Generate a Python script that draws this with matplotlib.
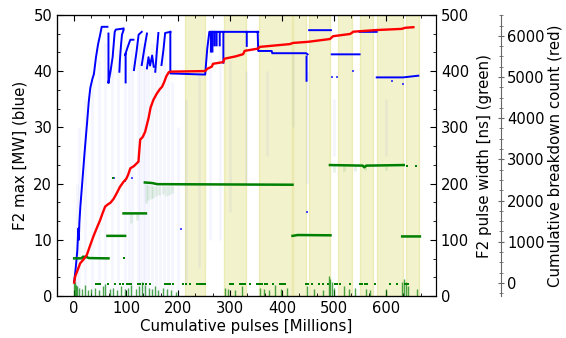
import numpy as np
import matplotlib
matplotlib.use('Agg')
import matplotlib.pyplot as plt
from matplotlib.ticker import AutoMinorLocator

nan = np.nan

# shaded periods (Millions of pulses)
span_start = [213.5, 289, 356, 420.5, 452.5, 508, 550, 583, 638.5]
span_end = [252, 330, 418.7, 446, 492, 534, 575.6, 633, 664]

# F2 max [MW] (blue), NaN breaks between pieces
blue_x = [0, 3, 6, 8, 9, 10, 12, 15, 20, 25, 28, 31, 35, 38, 42, 46, 50, 53, 64, nan,
          66, 66, nan,
          66, 70, 74, 78, 80, 95, nan,
          87, 88, 90, 92, 95, nan,
          99, 99, nan,
          98, 103, 108, 114, nan,
          115, 120, 124, 130, nan,
          130, 135, 140, nan,
          140, 143, 146, 150, 153, nan,
          156, 159, 162, nan,
          168, 172, 175, 185, nan,
          185, 185, 252, 256, 260, 354, nan,
          263, 263, nan, 266, 266, nan, 270, 270, nan, 274, 274, nan, 280, 280, nan,
          287, 287, nan, 332, 332, nan,
          353, 354, 380, 381, 446, 449, nan,
          447, 447, nan,
          452, 494, nan,
          495.5, 549, nan,
          549, 582, nan,
          582, 633, 662]
blue_y = [2.5, 5, 8, 12, 10, 13, 16, 19.5, 25.5, 31, 34.5, 37, 38.6, 39.5, 42.5, 44.8, 46.5, 47.9, 47.9, nan,
          46.7, 38, nan,
          38, 40, 42.5, 47, 47.4, 47.6, nan,
          39.9, 42, 44.5, 46.5, 47.3, nan,
          38, 43, nan,
          42.9, 44.3, 45.6, 45.6, nan,
          40.2, 43.5, 46.5, 47.0, nan,
          41.1, 44, 46.7, nan,
          40.5, 42.5, 41, 42.8, 40.8, nan,
          39.9, 43.5, 46.8, nan,
          41.1, 44, 46.8, 47.0, nan,
          47.0, 39.6, 39.4, 44, 47.0, 47.0, nan,
          47, 43.5, nan, 47, 43.5, nan, 47, 44.6, nan, 47, 44.6, nan, 47, 44.6, nan,
          47, 41.5, nan, 47, 44.5, nan,
          47.0, 43.6, 43.6, 43.2, 43.2, 43.0, nan,
          42.6, 38.3, nan,
          47.3, 47.3, nan,
          43.0, 43.0, nan,
          47.0, 47.0, nan,
          38.9, 38.9, 39.2]

# stray blue points
blue_dot_x = [496, 505, 537, 612, 633, 76, 97, 112, 205, 447]
blue_dot_y = [39.0, 39.0, 40.0, 38.2, 37.7, 21, 20.5, 21, 12, 15]

# faint blue streaks: x, bottom, top [MW]
haze_x = [5, 10, 20, 35, 48, 60, 72, 85, 97, 105, 112, 122, 127, 133, 137, 142, 150, 158, 166, 173, 180, 188, 200, 215, 240, 262, 280, 300, 330, 370, 420, 447, 500, 600]
haze_lo = [0, 0, 0, 0, 0, 0, 0, 0, 0, 0, 0, 0, 0, 0, 0, 0, 0, 0, 0, 0, 0, 0, 0, 2, 5, 10, 10, 15, 20, 25, 30, 20, 25, 25]
haze_hi = [20, 30, 35, 40, 42, 45, 40, 44, 45, 40, 44, 45, 45, 45, 45, 42, 45, 45, 42, 44, 40, 38, 30, 35, 40, 45, 45, 42, 40, 40, 43, 40, 35, 35]

# F2 pulse width [ns] (green)
green_x = [0, 14, 17, 25, 28, 62, 66, nan,
           64, 98, nan,
           95, 138, nan,
           136, 150, 160, 420, nan,
           420, 430, 493, nan,
           492, 555, 558, 562, 634, nan,
           631, 665]
green_y = [67, 67, 70, 69, 67.5, 67, 67, nan,
           107, 107, nan,
           147, 147, nan,
           202, 201, 199, 198, nan,
           107, 108.5, 108, nan,
           233, 232, 229, 232, 233, nan,
           106, 106]

# isolated green points near 20 ns
gdot_x = [42.3, 45.5, 50, 64.7, 78.8, 88.5, 94.9, 101.3, 105.8, 109.6, 123.7, 127, 133.3, 138.5, 146,
          175, 178, 181.4, 184.6, 191, 209, 215.4, 223, 236, 239, 242, 245.5, 248.7, 252,
          300, 303, 306, 319, 322.5, 325.6, 329, 338.5, 351, 354.5, 357.7, 361, 367, 370.5, 382,
          395, 399.4, 402.5, 405.8, 446, 450.6, 457, 470, 479.5, 489, 502, 506, 511.5, 530.8,
          550, 553, 559.6, 563, 579, 607.7, 620.6, 636.5, 640, 643]
gdot_y = [22] * len(gdot_x)
gdot2_x = [95, 75, 641, 658]
gdot2_y = [67, 210, 232, 232]

# short green pulses from the bottom: x, top [ns]
gbar_x = [0, 2, 4, 6, 10, 15, 20, 26, 33, 40, 47, 55, 60, 68, 75, 83, 90, 97, 104, 110, 118, 125, 131, 137, 143,
          150, 156, 162, 170, 178, 186, 195, 290, 296, 310, 322, 358, 366, 374, 386, 398, 410, 447, 462, 478,
          490, 493, 496, 500, 520, 528, 540, 562, 570, 600, 630, 634, 638, 642, 660]
gbar_h = [30, 25, 20, 18, 15, 12, 20, 10, 12, 15, 10, 18, 22, 12, 15, 10, 18, 12, 15, 20, 12, 18, 25, 20, 15,
          12, 18, 10, 15, 12, 10, 8, 15, 12, 10, 18, 15, 12, 10, 20, 12, 15, 18, 12, 10,
          35, 30, 25, 15, 18, 12, 15, 12, 10, 12, 25, 30, 25, 18, 12]

# faint green spread under the plateaus
gfade_x = [138, 142, 147, 152, 158, 164, 170, 176, 182, 188, 110, 120, 500, 520, 540, 560, 600]
gfade_lo = [165, 170, 172, 175, 178, 180, 182, 178, 180, 184, 130, 135, 220, 222, 222, 224, 224]
gfade_hi = [200, 198, 198, 196, 196, 196, 196, 196, 196, 196, 147, 147, 233, 232, 232, 232, 232]

# cumulative breakdown count (red)
red_x = [0, 2, 5, 11.5, 18, 24.4, 30, 37, 44, 50, 55, 59.6, 65, 70, 76, 82, 88, 94.9, 100, 104, 108, 115,
         123.7, 125, 127, 132, 136.5, 143, 147, 152.5, 159, 165, 169, 173, 177, 182, 185, 252, 256, 265,
         267, 287, 289, 310, 325, 328, 354, 357, 415, 421, 450, 492, 498, 531, 537, 582, 630, 637, 652.5]
red_y = [10, 162, 257, 476, 571, 680, 885, 1131, 1349, 1527, 1704, 1854, 1909, 1950, 2045, 2182, 2332, 2455,
         2523, 2632, 2783, 2837, 2946, 3165, 3479, 3547, 3670, 3997, 4257, 4448, 4598, 4707, 4762, 4871,
         5008, 5117, 5130, 5144, 5199, 5253, 5321, 5362, 5444, 5499, 5554, 5635, 5690, 5731, 5799, 5827,
         5854, 5922, 5990, 6045, 6100, 6140, 6168, 6195, 6209]

fs_tick = 10.6
fs_lab = 10.8

fig = plt.figure(figsize=(5.66, 3.38), dpi=100)
ax1 = fig.add_axes([57 / 566, 42 / 338, 379 / 566, 281 / 338])

for s, e in zip(span_start, span_end):
    ax1.axvspan(s, e, color='y', alpha=0.2)

ax1.vlines(haze_x, haze_lo, haze_hi, color='blue', alpha=0.04, lw=2)
ax1.plot(blue_x, blue_y, color='blue', lw=1.4)
ax1.plot(blue_dot_x, blue_dot_y, 's', color='blue', ms=1.8, alpha=0.7, mew=0)
ax1.set_xlim(-33, 696)
ax1.set_ylim(0, 50)
ax1.set_xlabel('Cumulative pulses [Millions]', fontsize=fs_lab, labelpad=2)
ax1.set_ylabel('F2 max [MW] (blue)', fontsize=fs_lab, labelpad=4)
ax1.xaxis.set_minor_locator(AutoMinorLocator(3))
ax1.yaxis.set_minor_locator(AutoMinorLocator(3))
ax1.tick_params(which='both', direction='in', top=True, labelsize=fs_tick)
ax1.tick_params(which='major', length=4)
ax1.tick_params(which='minor', length=2)

ax2 = ax1.twinx()
ax2.vlines(gfade_x, gfade_lo, gfade_hi, color='green', alpha=0.1, lw=2)
ax2.vlines(gbar_x, 0, gbar_h, color='green', lw=1, alpha=0.7)
ax2.plot(green_x, green_y, color='green', lw=1.8)
ax2.plot(gdot_x, gdot_y, 's', color='green', ms=1.8, mew=0)
ax2.plot(gdot2_x, gdot2_y, 's', color='green', ms=2, mew=0)
ax2.set_ylim(0, 500)
ax2.set_ylabel('F2 pulse width [ns] (green)', fontsize=fs_lab, labelpad=6)
ax2.yaxis.set_minor_locator(AutoMinorLocator(3))
ax2.tick_params(which='both', direction='in', labelsize=fs_tick)
ax2.tick_params(which='major', length=4)
ax2.tick_params(which='minor', length=2)

ax3 = ax1.twinx()
ax3.spines['right'].set_position(('axes', 1.1707))
ax3.spines['right'].set_color('0.4')
ax3.plot(red_x, red_y, color='red', lw=1.7)
ax3.set_ylim(-316, 6505)
ax3.set_ylabel('Cumulative breakdown count (red)', fontsize=fs_lab, labelpad=2)
ax3.yaxis.set_minor_locator(AutoMinorLocator(4))
ax3.tick_params(which='both', direction='inout', labelsize=fs_tick, color='0.4', pad=2)
ax3.tick_params(which='major', length=5)
ax3.tick_params(which='minor', length=3)

fig.savefig('out.png', dpi=100)
